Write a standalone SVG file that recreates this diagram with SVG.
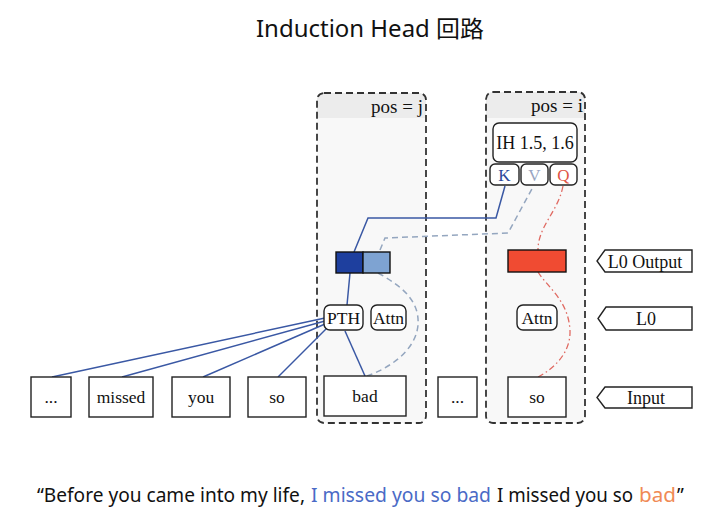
<svg xmlns="http://www.w3.org/2000/svg" width="720" height="524" viewBox="0 0 720 524">
<style>
.ser{font-family:"Liberation Serif","Times New Roman",serif;fill:#111;}
.box{fill:#fff;stroke:#222;stroke-width:1.4;}
.rbox{fill:#fff;stroke:#222;stroke-width:1.4;}
.cont{fill:none;stroke:#333;stroke-width:1.8;stroke-dasharray:7 4;}
.blue{fill:none;stroke:#3a58a4;stroke-width:1.5;}
.vdash{fill:none;stroke:#94a6bf;stroke-width:1.5;stroke-dasharray:6 4;}
.qdash{fill:none;stroke:#e06a62;stroke-width:1.3;stroke-dasharray:6 3 1.5 3;}
.sans{font-family:"Noto Sans","Open Sans","Noto Sans CJK SC",sans-serif;}
</style>
<rect width="720" height="524" fill="#fff"/>
<text class="sans" x="256" y="37" font-size="23" textLength="228" lengthAdjust="spacingAndGlyphs" fill="#111">Induction Head 回路</text>

<g id="pos-j">
<rect x="317" y="93" width="109" height="330" rx="7" fill="#f8f8f8"/>
<path d="M317,118 V100 Q317,93 324,93 H419 Q426,93 426,100 V118 Z" fill="#ececec"/>
<rect class="cont" x="317" y="93" width="109" height="330" rx="7"/>
<text class="ser" x="423" y="113" font-size="19" text-anchor="end">pos = j</text>
</g>
<g id="pos-i">
<rect x="486" y="92" width="99" height="331" rx="7" fill="#f8f8f8"/>
<path d="M486,118 V99 Q486,92 493,92 H578 Q585,92 585,99 V118 Z" fill="#ececec"/>
<rect class="cont" x="486" y="92" width="99" height="331" rx="7"/>
<text class="ser" x="583" y="112" font-size="19" text-anchor="end">pos = i</text>
</g>

<g id="connectors">
<path class="blue" d="M52,377 L325,318"/>
<path class="blue" d="M122,377 L325,321"/>
<path class="blue" d="M203,377 L325,324"/>
<path class="blue" d="M278,377 L327,328"/>
<path class="blue" d="M345,331 L365,376"/>
<path class="blue" d="M347,305 L350,273"/>
<path class="blue" d="M354,252 L368,218 L496,218 L505,186"/>
<path class="vdash" d="M380,250 L385,238 L508,233 L533,187"/>
<path class="vdash" d="M378,273 C400,285 420,300 418,325 C416,350 390,368 367,376"/>
<path class="qdash" d="M563,186 C558,212 538,226 538,250"/>
<path class="qdash" d="M538,272 C548,288 568,300 570,330 C571,352 555,368 538,377"/>
</g>

<g id="ih">
<rect class="rbox" x="493" y="123" width="84" height="39" rx="6"/>
<text class="ser" x="535" y="149" font-size="18" text-anchor="middle">IH 1.5, 1.6</text>
</g>
<g id="k">
<rect class="rbox" x="490" y="164" width="29" height="21" rx="5"/>
<text class="ser" x="504.5" y="180.5" font-size="17" text-anchor="middle" style="fill:#2b4a9c">K</text>
</g>
<g id="v">
<rect class="rbox" x="521" y="164" width="27" height="21" rx="5"/>
<text class="ser" x="534.5" y="180.5" font-size="17" text-anchor="middle" style="fill:#9aa6c2">V</text>
</g>
<g id="q">
<rect class="rbox" x="550" y="164" width="27" height="21" rx="5"/>
<text class="ser" x="563.5" y="180.5" font-size="17" text-anchor="middle" style="fill:#e05545">Q</text>
</g>

<g id="out-j">
<rect x="336" y="252" width="27" height="21" fill="#1e3f9e" stroke="#111" stroke-width="1.4"/>
<rect x="363" y="252" width="27" height="21" fill="#7ea3d2" stroke="#111" stroke-width="1.4"/>
</g>
<g id="out-i">
<rect x="508" y="250" width="58" height="22" fill="#f04b32" stroke="#111" stroke-width="1.4"/>
</g>

<g id="pth">
<rect class="rbox" x="324" y="305" width="39" height="25" rx="6"/>
<text class="ser" x="343.5" y="323.5" font-size="17.5" text-anchor="middle">PTH</text>
</g>
<g id="attn-j">
<rect class="rbox" x="371" y="305" width="35" height="25" rx="6"/>
<text class="ser" x="388.5" y="323.5" font-size="17.5" text-anchor="middle">Attn</text>
</g>
<g id="attn-i">
<rect class="rbox" x="517" y="305" width="40" height="25" rx="6"/>
<text class="ser" x="537" y="323.5" font-size="17.5" text-anchor="middle">Attn</text>
</g>

<g id="tok-dots1">
<rect class="box" x="31" y="377" width="40" height="40"/>
<text class="ser" x="51" y="403" font-size="17.5" text-anchor="middle">...</text>
</g>
<g id="tok-missed">
<rect class="box" x="89" y="377" width="64" height="40"/>
<text class="ser" x="121" y="403" font-size="17.5" text-anchor="middle">missed</text>
</g>
<g id="tok-you">
<rect class="box" x="172" y="377" width="58" height="40"/>
<text class="ser" x="201" y="403" font-size="17.5" text-anchor="middle">you</text>
</g>
<g id="tok-so1">
<rect class="box" x="248" y="377" width="58" height="40"/>
<text class="ser" x="277" y="403" font-size="17.5" text-anchor="middle">so</text>
</g>
<g id="tok-bad">
<rect class="box" x="324" y="376" width="82" height="40"/>
<text class="ser" x="365" y="402" font-size="17.5" text-anchor="middle">bad</text>
</g>
<g id="tok-dots2">
<rect class="box" x="438" y="377" width="39" height="40"/>
<text class="ser" x="457.5" y="403" font-size="17.5" text-anchor="middle">...</text>
</g>
<g id="tok-so2">
<rect class="box" x="508" y="377" width="58" height="40"/>
<text class="ser" x="537" y="403" font-size="17.5" text-anchor="middle">so</text>
</g>

<g id="lbl-output">
<polygon class="box" points="605,250 692,250 692,272 605,272 597,261"/>
<text class="ser" x="645" y="267.5" font-size="18" text-anchor="middle">L0 Output</text>
</g>
<g id="lbl-l0">
<polygon class="box" points="606,307 692,307 692,330 606,330 598,318.5"/>
<text class="ser" x="646" y="324.5" font-size="18" text-anchor="middle">L0</text>
</g>
<g id="lbl-input">
<polygon class="box" points="605,387 692,387 692,408 605,408 597,397.5"/>
<text class="ser" x="646" y="403.5" font-size="18" text-anchor="middle">Input</text>
</g>

<g id="sentence" class="sans" font-size="19">
<text x="37" y="502" textLength="268" lengthAdjust="spacingAndGlyphs" fill="#111">“Before you came into my life,</text>
<text x="311" y="502" textLength="180" lengthAdjust="spacingAndGlyphs" fill="#4a6ac6">I missed you so bad</text>
<text x="497" y="502" textLength="136" lengthAdjust="spacingAndGlyphs" fill="#111">I missed you so</text>
<text x="639" y="502" textLength="37" lengthAdjust="spacingAndGlyphs" fill="#f08a55">bad</text>
<text x="677" y="502" fill="#111">”</text>
</g>
</svg>
